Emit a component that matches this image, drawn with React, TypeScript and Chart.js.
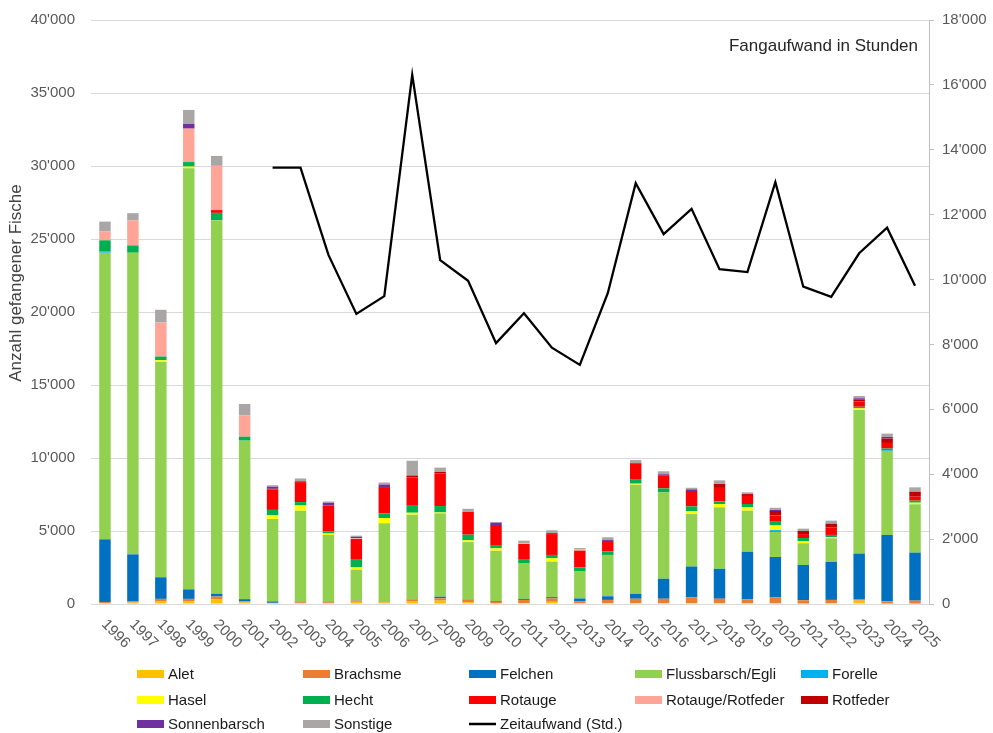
import React, { useEffect, useRef } from "react";
import { Chart, registerables } from "chart.js";

Chart.register(...registerables);

const years = ["1996","1997","1998","1999","2000","2001","2002","2003","2004","2005","2006","2007","2008","2009","2010","2011","2012","2013","2014","2015","2016","2017","2018","2019","2020","2021","2022","2023","2024","2025"];

const alet = [50,100,200,200,330,100,50,60,60,150,100,200,230,130,50,60,150,50,50,60,60,60,60,50,60,30,50,230,30,30];
const brachsme = [80,100,150,150,180,80,30,60,60,80,30,110,160,150,100,220,230,150,230,300,300,390,300,270,410,230,230,110,160,200];
const felchen = [4300,3200,1480,650,180,150,100,20,20,20,20,20,110,20,50,70,90,180,250,340,1370,2120,2050,3260,2750,2410,2600,3110,4540,3290];
const flussbarsch = [19630,20660,14770,28840,25600,10860,5650,6250,4580,2100,5380,5790,5710,3940,3450,2460,2430,1880,2830,7470,5920,3590,4210,2810,1710,1490,1620,9840,5750,3310];
const forelle = [100,0,0,0,0,0,0,0,0,0,0,0,0,0,0,0,0,0,0,0,0,0,0,0,130,0,0,0,30,0];
const hasel = [0,0,100,120,0,0,250,360,110,160,360,130,60,120,160,0,230,0,0,70,0,190,230,230,330,130,90,110,0,110];
const hecht = [750,500,250,310,500,270,365,230,140,520,320,530,440,390,180,270,230,250,250,270,270,340,180,230,290,230,140,110,140,140];
const rotauge = [0,0,0,0,190,0,1410,1370,1780,1420,1800,1890,2240,1550,1420,1030,1430,1140,710,1100,870,1050,920,550,390,270,500,370,380,270];
const rotaugeRotfeder = [600,1710,2330,2290,3030,1460,0,0,0,50,0,0,0,0,0,60,0,110,0,0,0,0,0,0,0,0,0,0,0,0];
const rotfeder = [0,0,0,0,0,0,40,50,0,0,0,130,90,0,0,0,60,0,0,50,50,0,270,130,300,210,270,140,300,340];
const sonnenbarsch = [0,0,0,320,0,0,140,0,180,100,170,0,0,0,160,0,0,0,70,0,50,110,0,0,70,0,0,70,110,0];
const sonstige = [680,500,870,960,680,780,100,200,90,80,140,1010,300,220,50,170,200,70,180,200,200,110,250,120,150,160,210,160,230,300];
const zeitaufwand = [null,null,null,null,null,null,13450,13450,10760,8940,9490,16310,10600,9960,8040,8960,7900,7370,9580,12970,11400,12180,10320,10230,13000,9780,9470,10810,11600,9810];

const leftTicks = [0,5000,10000,15000,20000,25000,30000,35000,40000];
const rightTicks = [0,2000,4000,6000,8000,10000,12000,14000,16000,18000];

const FONT = "'Liberation Sans', Arial, sans-serif";

function fmt(v: number): string {
  const s = Math.round(v).toString();
  return s.replace(/\B(?=(\d{3})+(?!\d))/g, "'");
}

const species = [
  { label: "Alet", data: alet, color: "#FFC000" },
  { label: "Brachsme", data: brachsme, color: "#ED7D31" },
  { label: "Felchen", data: felchen, color: "#0070C0" },
  { label: "Flussbarsch/Egli", data: flussbarsch, color: "#92D050" },
  { label: "Forelle", data: forelle, color: "#00B0F0" },
  { label: "Hasel", data: hasel, color: "#FFFF00" },
  { label: "Hecht", data: hecht, color: "#00B050" },
  { label: "Rotauge", data: rotauge, color: "#FF0000" },
  { label: "Rotauge/Rotfeder", data: rotaugeRotfeder, color: "#FFA597" },
  { label: "Rotfeder", data: rotfeder, color: "#C00000" },
  { label: "Sonnenbarsch", data: sonnenbarsch, color: "#7030A0" },
  { label: "Sonstige", data: sonstige, color: "#A9A6A6" },
];

const customDraw = {
  id: "customDraw",
  afterDraw(chart: any) {
    const ctx = chart.ctx;
    const xs = chart.scales.x;
    const area = chart.chartArea;
    ctx.save();
    ctx.font = `15px ${FONT}`;
    ctx.fillStyle = "#595959";
    ctx.textAlign = "left";
    ctx.textBaseline = "alphabetic";
    years.forEach((y, i) => {
      const x = xs.getPixelForValue(i);
      ctx.save();
      ctx.translate(x - 4, area.bottom + 21);
      ctx.rotate(Math.PI / 4);
      ctx.fillText(y, 0, 0);
      ctx.restore();
    });
    ctx.save();
    ctx.font = `17px ${FONT}`;
    ctx.fillStyle = "#404040";
    ctx.translate(16, 283);
    ctx.rotate(-Math.PI / 2);
    ctx.textAlign = "center";
    ctx.textBaseline = "middle";
    ctx.fillText("Anzahl gefangener Fische", 0, 0);
    ctx.restore();
    ctx.font = `17px ${FONT}`;
    ctx.fillStyle = "#262626";
    ctx.textAlign = "right";
    ctx.textBaseline = "middle";
    ctx.fillText("Fangaufwand in Stunden", area.right - 11, area.top + 26);
    const items = chart.data.datasets.slice();
    const lineItem = items.find((d: any) => d.type === "line");
    const barItems = items.filter((d: any) => d.type !== "line");
    const ordered = [...barItems, lineItem];
    const colX = [137, 303, 469, 635, 801];
    const rowY = [674, 700, 724];
    ctx.font = `15px ${FONT}`;
    ctx.textAlign = "left";
    ctx.textBaseline = "middle";
    ordered.forEach((d: any, i: number) => {
      const c = i % 5;
      const r = Math.floor(i / 5);
      const bx = colX[c];
      const by = rowY[r];
      if (d.type === "line") {
        ctx.strokeStyle = "#000";
        ctx.lineWidth = 2.5;
        ctx.beginPath();
        ctx.moveTo(bx, by);
        ctx.lineTo(bx + 27, by);
        ctx.stroke();
      } else {
        ctx.fillStyle = d.backgroundColor;
        ctx.fillRect(bx, by - 4, 27, 8);
      }
      ctx.fillStyle = "#1a1a1a";
      ctx.fillText(d.label, bx + 31, by + 1);
    });
    ctx.restore();
  },
};

export default function App() {
  const ref = useRef<HTMLCanvasElement | null>(null);
  useEffect(() => {
    if (!ref.current) return;
    const datasets: any[] = species.map((s) => ({
      type: "bar",
      label: s.label,
      data: s.data,
      backgroundColor: s.color,
      borderWidth: 0,
      yAxisID: "y",
      stack: "fish",
      order: 1,
      barPercentage: 0.41,
      categoryPercentage: 1,
    }));
    datasets.push({
      type: "line",
      label: "Zeitaufwand (Std.)",
      data: zeitaufwand,
      borderColor: "#000000",
      backgroundColor: "#000000",
      borderWidth: 2.3,
      pointRadius: 0,
      tension: 0,
      yAxisID: "y1",
      order: 0,
      spanGaps: false,
    });
    const chart = new Chart(ref.current, {
      type: "bar",
      data: { labels: years, datasets },
      options: {
        responsive: true,
        maintainAspectRatio: false,
        animation: false,
        layout: { autoPadding: false, padding: { top: 20, left: 0, right: 0, bottom: 0 } },
        plugins: {
          legend: { display: false },
          tooltip: { enabled: false },
          title: { display: false },
        },
        scales: {
          x: {
            stacked: true,
            offset: true,
            grid: { display: false },
            border: { display: true, color: "#d9d9d9", width: 1 },
            ticks: { display: false },
            afterFit: (s: any) => { s.height = 129; s.paddingLeft = 0; s.paddingRight = 0; },
          },
          y: {
            type: "linear",
            position: "left",
            stacked: true,
            min: 0,
            max: 40000,
            afterBuildTicks: (s: any) => { s.ticks = leftTicks.map((v) => ({ value: v })); },
            grid: { color: "#d9d9d9", lineWidth: 1, drawTicks: false },
            border: { display: false },
            ticks: {
              padding: 16,
              color: "#595959",
              font: { family: FONT, size: 15 },
              callback: (v: any) => fmt(Number(v)),
            },
            afterFit: (s: any) => { s.width = 91; s.paddingTop = 0; s.paddingBottom = 0; },
          },
          y1: {
            type: "linear",
            position: "right",
            min: 0,
            max: 18000,
            afterBuildTicks: (s: any) => { s.ticks = rightTicks.map((v) => ({ value: v })); },
            grid: { drawOnChartArea: false, drawTicks: true, tickLength: 5, color: "#bfbfbf" },
            border: { display: true, color: "#bfbfbf", width: 1 },
            ticks: {
              padding: 8,
              color: "#595959",
              font: { family: FONT, size: 15 },
              callback: (v: any) => fmt(Number(v)),
            },
            afterFit: (s: any) => { s.width = 64; s.paddingTop = 0; s.paddingBottom = 0; },
          },
        },
      } as any,
      plugins: [customDraw],
    });
    return () => chart.destroy();
  }, []);
  return (
    <div style={{ position: "fixed", left: 0, top: 0, width: 993, height: 733, background: "#fff" }}>
      <canvas ref={ref} />
    </div>
  );
}
